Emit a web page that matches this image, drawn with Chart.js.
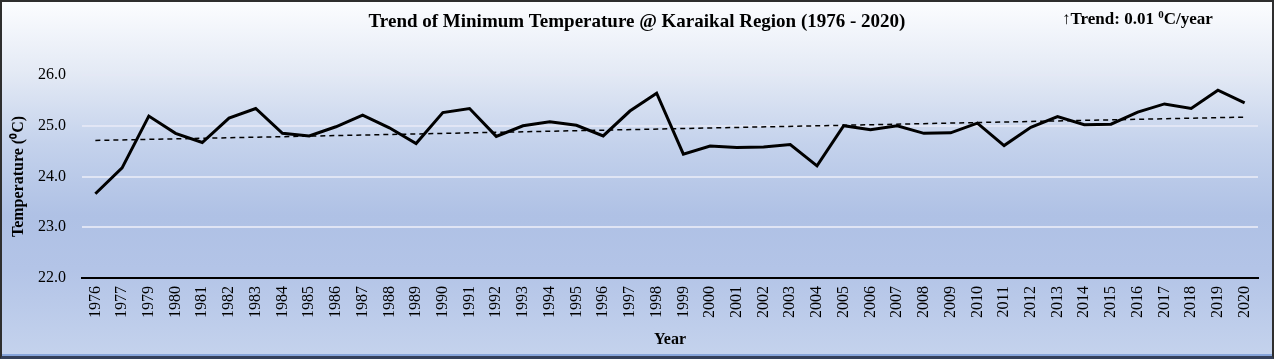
<!DOCTYPE html>
<html>
<head>
<meta charset="utf-8">
<script src="https://cdn.jsdelivr.net/npm/chart.js@4"></script>
<style>
  html, body { margin: 0; padding: 0; }
  #wrap {
    position: relative;
    width: 1274px;
    height: 359px;
    background: linear-gradient(to bottom, #fcfdff 0%, #e4eaf5 20%, #c4d2ec 40%, #afc1e5 60%, #b3c4e7 75%, #c5d3ed 100%);
  }
  #frame {
    position: absolute; left: 0; top: 0; right: 0; bottom: 0;
    border: 2px solid #2e2e2e;
    border-bottom: 3px solid #34405a;
    box-shadow: inset 0 -2px 0 #86a4da;
    pointer-events: none;
  }
  canvas { position: absolute; left: 0; top: 0; }
</style>
</head>
<body>
<div id="wrap">
  <canvas id="chart" width="1274" height="359"></canvas>
  <div id="frame"></div>
</div>
<script>
// categories (1978 is absent in the source)
const years = ['1976','1977','1979','1980','1981','1982','1983','1984','1985','1986',
  '1987','1988','1989','1990','1991','1992','1993','1994','1995','1996','1997','1998',
  '1999','2000','2001','2002','2003','2004','2005','2006','2007','2008','2009','2010',
  '2011','2012','2013','2014','2015','2016','2017','2018','2019','2020'];

// annual minimum temperature (°C)
const minTemp = [23.66, 24.17, 25.19, 24.85, 24.67, 25.15, 25.34, 24.85, 24.80, 24.98,
  25.21, 24.96, 24.65, 25.26, 25.34, 24.79, 25.00, 25.08, 25.01, 24.80, 25.29, 25.64,
  24.44, 24.60, 24.57, 24.58, 24.63, 24.21, 25.00, 24.92, 25.00, 24.85, 24.86, 25.05,
  24.61, 24.97, 25.18, 25.02, 25.03, 25.27, 25.43, 25.34, 25.70, 25.45];

// trend line end values
const trendStart = 24.71;
const trendEnd = 25.17;

const yMin = 22, yMax = 26, yStep = 1;

const FONT = "'Liberation Serif', 'Times New Roman', serif";

const trendData = years.map((_, i) =>
  i === 0 ? trendStart : (i === years.length - 1 ? trendEnd : null));

const textPlugin = {
  id: 'texts',
  afterDraw(chart) {
    const ctx = chart.ctx;
    ctx.save();
    ctx.fillStyle = '#000';
    ctx.textBaseline = 'middle';
    ctx.textAlign = 'center';
    ctx.font = `bold 19px ${FONT}`;
    ctx.fillText('Trend of Minimum Temperature @ Karaikal Region (1976 - 2020)', 637, 22);

    // trend note with superscript
    ctx.textAlign = 'left';
    let x = 1062;
    ctx.font = `bold 17px ${FONT}`;
    const a = '\u2191Trend: 0.01 ';
    ctx.fillText(a, x, 20);
    x += ctx.measureText(a).width;
    ctx.font = `bold 11px ${FONT}`;
    ctx.fillText('0', x, 15);
    x += ctx.measureText('0').width;
    ctx.font = `bold 17px ${FONT}`;
    ctx.fillText('C/year', x, 20);
    ctx.restore();
  }
};

new Chart(document.getElementById('chart'), {
  type: 'line',
  data: {
    labels: years,
    datasets: [
      {
        label: 'Minimum temperature',
        data: minTemp,
        borderColor: '#000',
        borderWidth: 3,
        pointRadius: 0,
        tension: 0,
        fill: false,
      },
      {
        label: 'Trend',
        data: trendData,
        spanGaps: true,
        borderColor: '#000',
        borderWidth: 1.5,
        borderDash: [5, 4],
        pointRadius: 0,
        fill: false,
      },
    ],
  },
  plugins: [textPlugin],
  options: {
    responsive: false,
    animation: false,
    layout: { padding: { top: 75, right: 16, bottom: 0, left: 0 } },
    plugins: {
      legend: { display: false },
      tooltip: { enabled: false },
    },
    scales: {
      x: {
        offset: true,
        grid: { display: false, drawTicks: false },
        border: { display: true, color: '#000', width: 2 },
        ticks: {
          color: '#000',
          font: { family: FONT, size: 16 },
          minRotation: 90,
          maxRotation: 90,
          padding: 8,
          autoSkip: false,
        },
        title: {
          display: true,
          text: 'Year',
          color: '#000',
          font: { family: FONT, size: 16, weight: 'bold' },
          padding: 10,
        },
        afterFit: (s) => { s.height = 81; },
      },
      y: {
        min: yMin,
        max: yMax,
        grid: { color: 'rgba(228,232,245,0.9)', lineWidth: 2, drawTicks: false },
        border: { display: false },
        ticks: {
          stepSize: yStep,
          color: '#000',
          font: { family: FONT, size: 16 },
          padding: 16,
          callback: (v) => v.toFixed(1),
        },
        title: {
          display: true,
          text: 'Temperature (\u2070C)',
          color: '#000',
          font: { family: FONT, size: 16, weight: 'bold' },
          padding: 9,
        },
        afterFit: (s) => { s.width = 82; },
      },
    },
  },
});
</script>
</body>
</html>
